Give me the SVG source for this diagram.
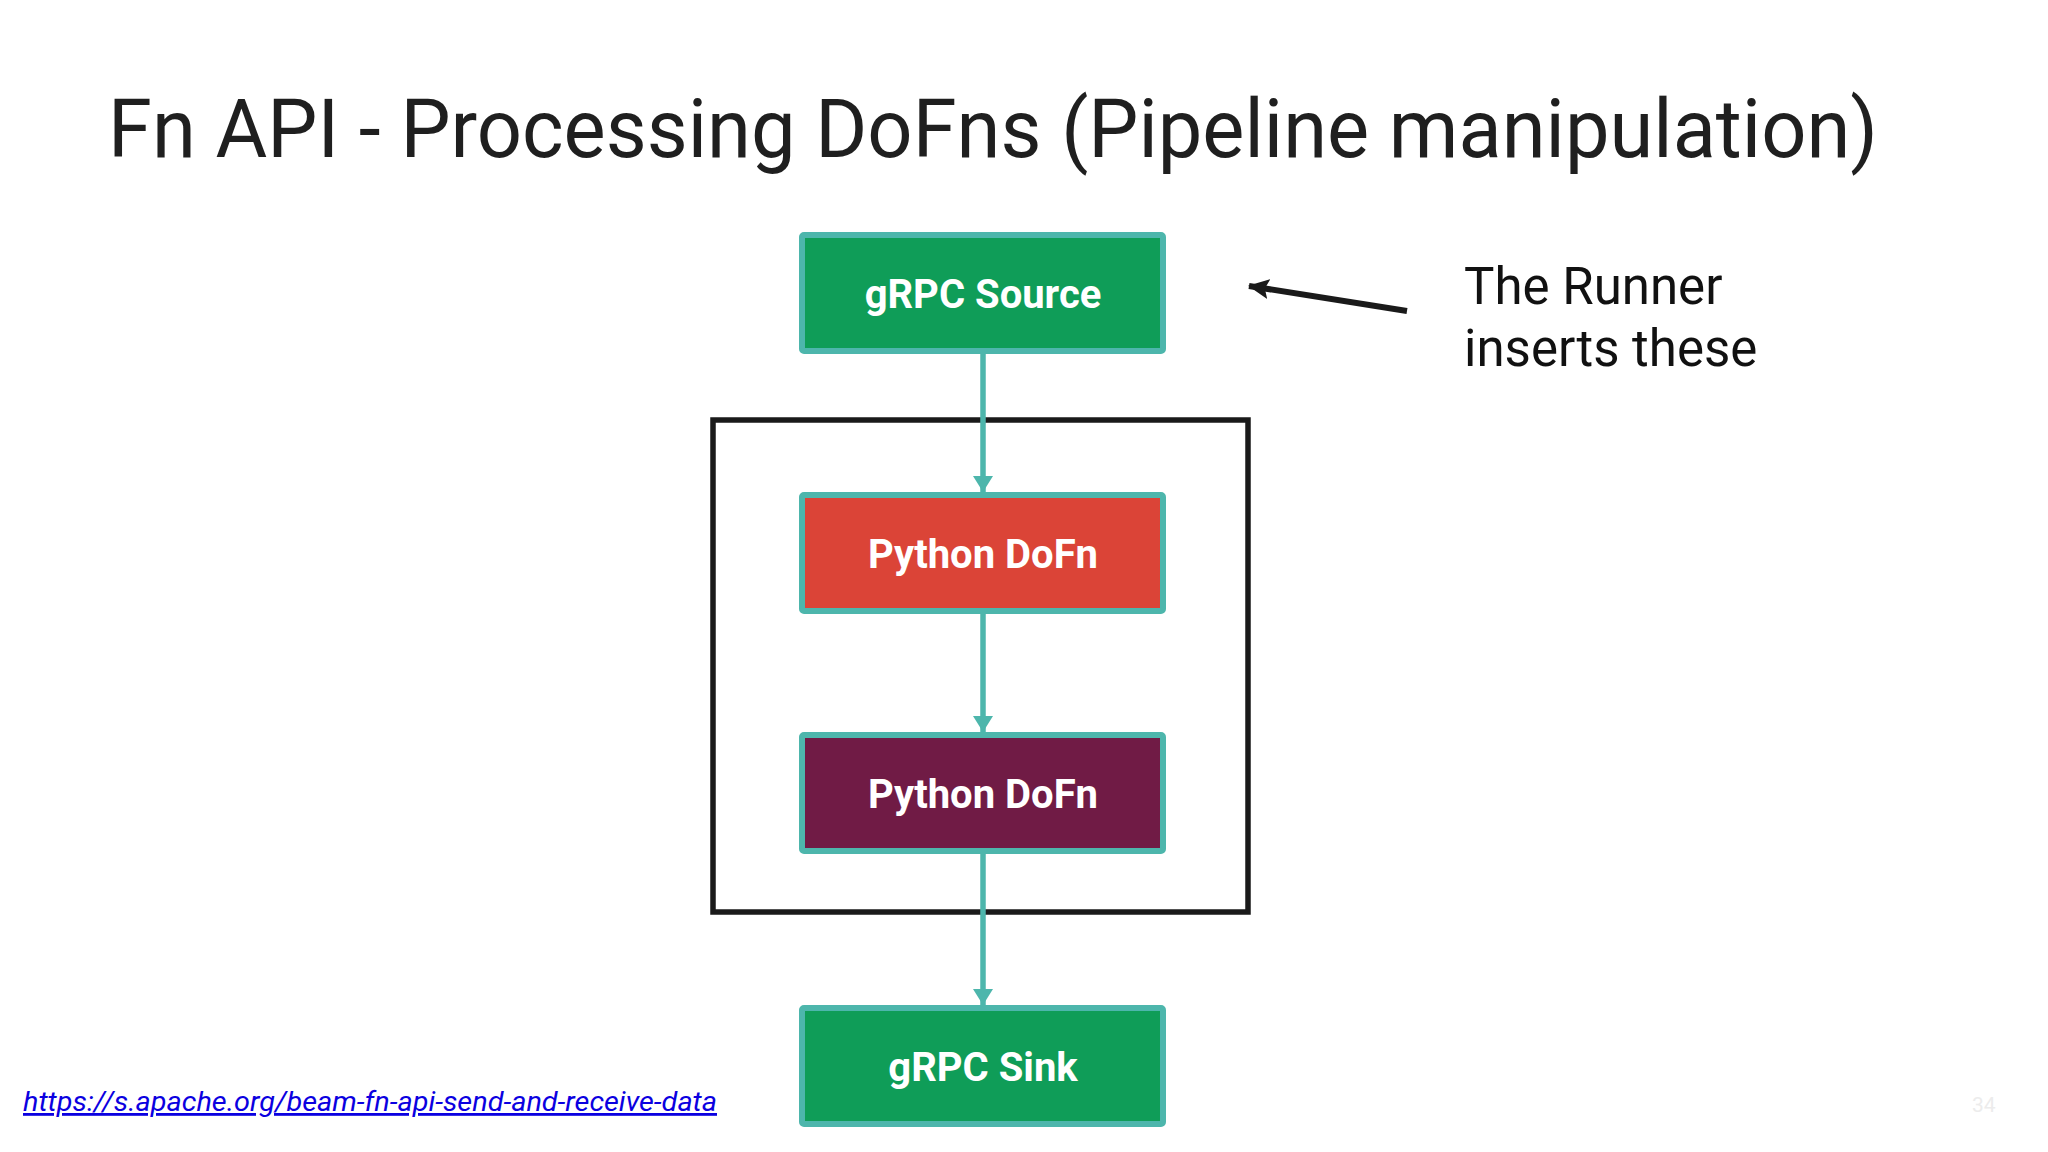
<svg xmlns="http://www.w3.org/2000/svg" width="2048" height="1152" viewBox="0 0 2048 1152">
  <defs>
    <style>
      .node rect { stroke: #4db6ac; stroke-width: 6; }
      .label { font-family: Roboto, "Liberation Sans", sans-serif; font-weight: 700; font-size: 40px; fill: #ffffff; text-anchor: middle; }
      .conn { stroke: #4db6ac; stroke-width: 5.5; fill: none; }
      .title { font-family: Roboto, "Liberation Sans", sans-serif; font-size: 81px; fill: #1f1f1f; }
      .note { font-family: Roboto, "Liberation Sans", sans-serif; font-size: 51px; fill: #111111; }
    </style>
    <marker id="tealHead" viewBox="0 0 16 20" refX="16" refY="10" markerUnits="userSpaceOnUse" markerWidth="16" markerHeight="20" orient="auto">
      <path d="M0,0 L16,10 L0,20 Z" fill="#4db6ac"/>
    </marker>
    <marker id="blackHead" viewBox="0 0 22 22" refX="20" refY="11" markerUnits="userSpaceOnUse" markerWidth="22" markerHeight="22" orient="auto">
      <path d="M0,1 L21,11 L0,21 L4,11 Z" fill="#1a1a1a"/>
    </marker>
  </defs>
  <rect width="2048" height="1152" fill="#ffffff"/>

  <text class="title" x="108" y="157" textLength="1770" lengthAdjust="spacingAndGlyphs">Fn API - Processing DoFns (Pipeline manipulation)</text>

  <g id="boundary">
    <rect x="713" y="420" width="535" height="492" fill="none" stroke="#1a1a1a" stroke-width="5.5"/>
  </g>

  <g id="connectors">
    <line class="conn" x1="983" y1="354" x2="983" y2="492" marker-end="url(#tealHead)"/>
    <line class="conn" x1="983" y1="614" x2="983" y2="732" marker-end="url(#tealHead)"/>
    <line class="conn" x1="983" y1="854" x2="983" y2="1005" marker-end="url(#tealHead)"/>
    <line x1="1407" y1="311" x2="1249" y2="286" stroke="#1a1a1a" stroke-width="6" marker-end="url(#blackHead)"/>
  </g>

  <g id="grpc-source" class="node">
    <rect x="802" y="235" width="361" height="116" rx="2" fill="#0f9d58"/>
    <text class="label" x="983" y="308">gRPC Source</text>
  </g>
  <g id="python-dofn-1" class="node">
    <rect x="802" y="495" width="361" height="116" rx="2" fill="#db4437"/>
    <text class="label" x="983" y="568">Python DoFn</text>
  </g>
  <g id="python-dofn-2" class="node">
    <rect x="802" y="735" width="361" height="116" rx="2" fill="#701b45"/>
    <text class="label" x="983" y="808">Python DoFn</text>
  </g>
  <g id="grpc-sink" class="node">
    <rect x="802" y="1008" width="361" height="116" rx="2" fill="#0f9d58"/>
    <text class="label" x="983" y="1081">gRPC Sink</text>
  </g>

  <g id="note">
    <text class="note" x="1464" y="304">The Runner</text>
    <text class="note" x="1464" y="366">inserts these</text>
  </g>

  <text x="23" y="1111" font-family="Roboto, 'Liberation Sans', sans-serif" font-style="italic" font-size="28" fill="#0b00e0" text-decoration="underline" textLength="694" lengthAdjust="spacingAndGlyphs">https://s.apache.org/beam-fn-api-send-and-receive-data</text>
  <text x="1972" y="1112" font-family="Roboto, 'Liberation Sans', sans-serif" font-size="21" fill="#ececec">34</text>
</svg>
